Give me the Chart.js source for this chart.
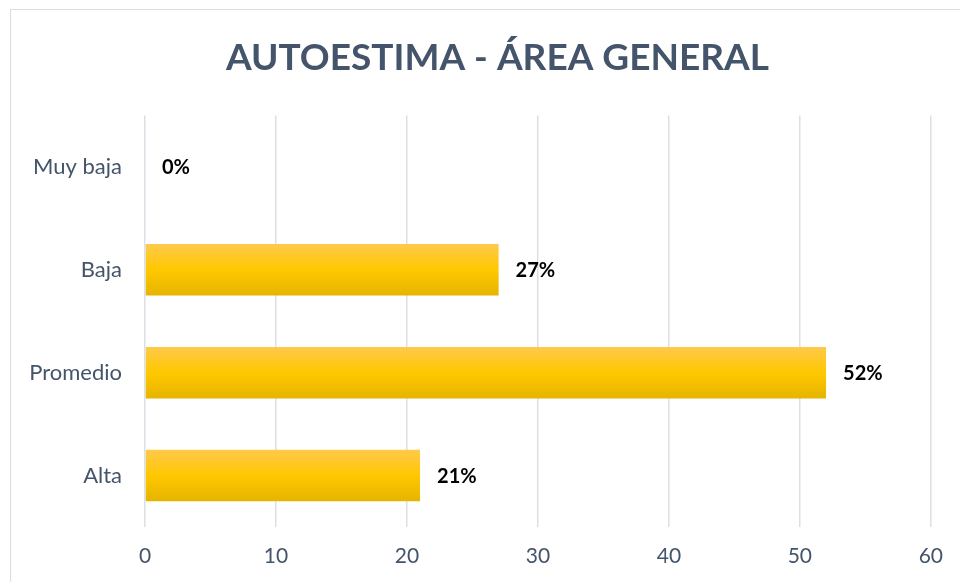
<!DOCTYPE html>
<html>
<head>
<meta charset="utf-8">
<script src="https://cdn.jsdelivr.net/npm/chart.js@4"></script>
<style>
  html, body { margin: 0; padding: 0; background: #fff; }
  #wrap { position: relative; width: 960px; height: 582px; overflow: hidden; }
  #frame { position: absolute; left: 10px; top: 9px; width: 1000px; height: 1000px;
           border: 1px solid #D9DDE3; box-sizing: border-box; pointer-events: none; }
</style>
</head>
<body>
<div id="wrap">
  <canvas id="chart-autoestima" width="960" height="582"></canvas>
  <div id="frame"></div>
</div>
<script>
// ── data ──
const categories = ['Muy baja', 'Baja', 'Promedio', 'Alta'];
const percentages = [0, 27, 52, 21];
const xTicks = [0, 10, 20, 30, 40, 50, 60];

const FONT = 'Lato, "Open Sans", sans-serif';
const TEXT_COLOR = '#44546A';

// vertical gold gradient per bar, built from the y scale
function barGradient(ctx) {
  const chart = ctx.chart;
  const yScale = chart.scales.y;
  if (!yScale || !chart.chartArea) return '#FFC800';
  const c = yScale.getPixelForValue(ctx.dataIndex);
  const h = (chart.chartArea.bottom - chart.chartArea.top) / categories.length * 0.5;
  const g = chart.ctx.createLinearGradient(0, c - h / 2, 0, c + h / 2);
  g.addColorStop(0, '#FFC94C');
  g.addColorStop(0.5, '#FFC800');
  g.addColorStop(1, '#E6B400');
  return g;
}

// value labels at the end of each bar
const valueLabels = {
  id: 'valueLabels',
  afterDatasetsDraw(chart) {
    const c = chart.ctx;
    const meta = chart.getDatasetMeta(0);
    c.save();
    c.font = 'bold 20px ' + FONT;
    c.fillStyle = '#000';
    c.textAlign = 'left';
    c.textBaseline = 'middle';
    meta.data.forEach((bar, i) => {
      c.fillText(percentages[i] + '%', bar.x + 17, bar.y + 1);
    });
    c.restore();
  }
};

// centre the title over the framed area instead of the full canvas
const shiftTitle = {
  id: 'shiftTitle',
  afterLayout(chart) {
    if (chart.titleBlock) chart.titleBlock.left = 64;
  }
};

new Chart(document.getElementById('chart-autoestima'), {
  type: 'bar',
  data: {
    labels: categories,
    datasets: [{
      data: percentages,
      backgroundColor: barGradient,
      borderWidth: 0,
      barPercentage: 0.5,
      categoryPercentage: 1
    }]
  },
  options: {
    indexAxis: 'y',
    responsive: false,
    animation: false,
    layout: { padding: { top: 36, right: 29, bottom: 0, left: 0 } },
    scales: {
      x: {
        min: 0,
        max: 60,
        afterBuildTicks: (scale) => { scale.ticks = xTicks.map(v => ({ value: v })); },
        afterFit: (scale) => { scale.height = 55; },
        grid: { color: '#DCE0E6', lineWidth: 1.5, drawTicks: false },
        border: { display: false },
        ticks: { color: TEXT_COLOR, font: { family: FONT, size: 21 }, padding: 17 }
      },
      y: {
        afterFit: (scale) => { scale.width = 145; },
        grid: { display: false, drawTicks: false },
        border: { display: false },
        ticks: { color: TEXT_COLOR, font: { family: FONT, size: 22 }, padding: 23 }
      }
    },
    plugins: {
      legend: { display: false },
      tooltip: { enabled: false },
      title: {
        display: true,
        text: 'AUTOESTIMA - ÁREA GENERAL',
        color: TEXT_COLOR,
        font: { family: FONT, size: 37, weight: 'bold' },
        padding: { top: 0, bottom: 35 }
      }
    }
  },
  plugins: [valueLabels, shiftTitle]
});
</script>
</body>
</html>
